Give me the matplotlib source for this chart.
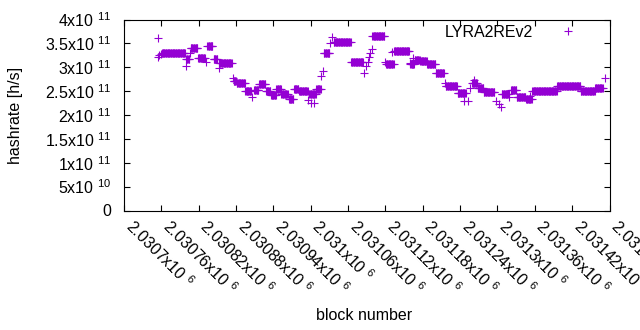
import numpy as np
import matplotlib
matplotlib.use("Agg")
import matplotlib.pyplot as plt
from matplotlib.ticker import FixedLocator, FixedFormatter

plt.rcParams['font.family'] = ['Liberation Sans', 'DejaVu Sans']
plt.rcParams['mathtext.fontset'] = 'custom'
plt.rcParams['mathtext.rm'] = 'Liberation Sans'
plt.rcParams['mathtext.it'] = 'Liberation Sans:italic'
plt.rcParams['mathtext.bf'] = 'Liberation Sans:bold'

# runs of consecutive blocks with the same hashrate (first block, last block, hashrate)
run_first = [2030754, 2030755, 2030757, 2030759, 2030761, 2030799, 2030800, 2030806,
             2030807, 2030819, 2030832, 2030834, 2030844, 2030852, 2030853, 2030875,
             2030876, 2030881, 2030895, 2030906, 2030909, 2030917, 2030928, 2030936,
             2030945, 2030953, 2030965, 2030973, 2030981, 2030996, 2030998, 2031000,
             2031006, 2031009, 2031017, 2031020, 2031021, 2031031, 2031034, 2031037,
             2031065, 2031086, 2031089, 2031092, 2031093, 2031095, 2031098, 2031099,
             2031120, 2031121, 2031131, 2031134, 2031159, 2031160, 2031165, 2031167,
             2031176, 2031187, 2031201, 2031215, 2031217, 2031236, 2031247, 2031253,
             2031256, 2031259, 2031262, 2031268, 2031278, 2031297, 2031302, 2031305,
             2031307, 2031319, 2031322, 2031331, 2031346, 2031353, 2031356, 2031396,
             2031434, 2031457, 2031472]
run_last = [2030754, 2030755, 2030757, 2030759, 2030798, 2030799, 2030805, 2030806,
            2030818, 2030830, 2030832, 2030842, 2030850, 2030852, 2030873, 2030875,
            2030880, 2030894, 2030904, 2030906, 2030916, 2030927, 2030935, 2030944,
            2030952, 2030963, 2030972, 2030980, 2030995, 2030996, 2031008, 2031000,
            2031006, 2031016, 2031017, 2031020, 2031030, 2031031, 2031034, 2031064,
            2031084, 2031086, 2031089, 2031092, 2031093, 2031095, 2031098, 2031118,
            2031120, 2031133, 2031131, 2031158, 2031159, 2031166, 2031165, 2031175,
            2031186, 2031200, 2031214, 2031215, 2031235, 2031249, 2031247, 2031253,
            2031256, 2031267, 2031262, 2031277, 2031295, 2031297, 2031302, 2031305,
            2031318, 2031319, 2031330, 2031345, 2031355, 2031353, 2031395, 2031433,
            2031456, 2031469, 2031472]
run_rate = [3.62e11, 3.21e11, 3.26e11, 3.27e11, 3.29e11, 3.02e11, 3.17e11, 3.30e11,
            3.40e11, 3.19e11, 3.10e11, 3.44e11, 3.17e11, 2.98e11, 3.08e11, 2.77e11,
            2.71e11, 2.66e11, 2.50e11, 2.37e11, 2.53e11, 2.64e11, 2.51e11, 2.41e11,
            2.55e11, 2.43e11, 2.33e11, 2.55e11, 2.50e11, 2.32e11, 2.43e11, 2.25e11,
            2.25e11, 2.55e11, 2.81e11, 2.93e11, 3.30e11, 3.51e11, 3.63e11, 3.52e11,
            3.11e11, 2.89e11, 3.02e11, 3.12e11, 3.21e11, 3.30e11, 3.39e11, 3.66e11,
            3.10e11, 3.07e11, 3.32e11, 3.35e11, 3.09e11, 3.06e11, 3.19e11, 3.16e11,
            3.13e11, 3.06e11, 2.89e11, 2.67e11, 2.60e11, 2.46e11, 2.30e11, 2.30e11,
            2.57e11, 2.67e11, 2.74e11, 2.57e11, 2.48e11, 2.30e11, 2.23e11, 2.16e11,
            2.45e11, 2.37e11, 2.52e11, 2.37e11, 2.33e11, 2.39e11, 2.50e11, 2.60e11,
            2.51e11, 2.56e11, 2.77e11]

x_ticks = [2030700, 2030760, 2030820, 2030880, 2030940, 2031000, 2031060,
           2031120, 2031180, 2031240, 2031300, 2031360, 2031420, 2031480]
x_tick_mantissa = ['2.0307', '2.03076', '2.03082', '2.03088', '2.03094', '2.031',
                   '2.03106', '2.03112', '2.03118', '2.03124', '2.0313', '2.03136',
                   '2.03142', '2.03148']
y_ticks = [0, 5e10, 1e11, 1.5e11, 2e11, 2.5e11, 3e11, 3.5e11, 4e11]
y_tick_text = ['0', '5x10 $^{10}$', '1x10 $^{11}$', '1.5x10 $^{11}$', '2x10 $^{11}$',
               '2.5x10 $^{11}$', '3x10 $^{11}$', '3.5x10 $^{11}$', '4x10 $^{11}$']

blocks = np.concatenate([np.arange(a, b + 1) for a, b in zip(run_first, run_last)])
rates = np.concatenate([np.full(b - a + 1, r) for a, b, r in zip(run_first, run_last, run_rate)])

W, H = 640, 330
fig = plt.figure(figsize=(W / 100, H / 100), dpi=100)
L, R, T, B = 124, 609.5, 19.5, 210.5
ax = fig.add_axes([L / W, 1 - B / H, (R - L) / W, (B - T) / H])

ax.plot(blocks, rates, linestyle='none', marker='+', color='#9400D3',
        markersize=5.2, markeredgewidth=0.8, label='LYRA2REv2')

ax.set_xlim(x_ticks[0], x_ticks[-1])
ax.set_ylim(y_ticks[0], y_ticks[-1])

fs = 11.5
ax.xaxis.set_major_locator(FixedLocator(x_ticks))
ax.xaxis.set_major_formatter(FixedFormatter([m + 'x10 $^{6}$' for m in x_tick_mantissa]))
ax.yaxis.set_major_locator(FixedLocator(y_ticks))
ax.yaxis.set_major_formatter(FixedFormatter(y_tick_text))

ax.tick_params(direction='in', top=True, right=True, length=4, width=0.8,
               labelsize=fs, colors='black')
ax.tick_params(axis='y', pad=9)
ax.tick_params(axis='x', pad=12)
for lab in ax.get_xticklabels():
    lab.set_rotation(-45)
    lab.set_ha('left')
    lab.set_va('baseline')
    lab.set_rotation_mode('anchor')

for s in ax.spines.values():
    s.set_linewidth(0.8)
    s.set_color('black')

ax.set_ylabel('hashrate [h/s]', fontsize=fs, va='center')
ax.yaxis.set_label_coords((15.7 - L) / (R - L), 0.5)
ax.set_xlabel('block number', fontsize=fs, va='center')
ax.xaxis.set_label_coords(0.495, (B - 316) / (B - T))

fs_px = fs * 100 / 72
box_right = 567.7 + fs_px + 0.1 * fs_px
ax.legend(loc='center right', bbox_to_anchor=((box_right - L) / (R - L), (B - 32) / (B - T)),
          frameon=False, markerfirst=False, fontsize=fs,
          handlelength=2.0, handletextpad=1.15, borderaxespad=0, borderpad=0.1,
          numpoints=1)

fig.savefig('out.png', dpi=100)
